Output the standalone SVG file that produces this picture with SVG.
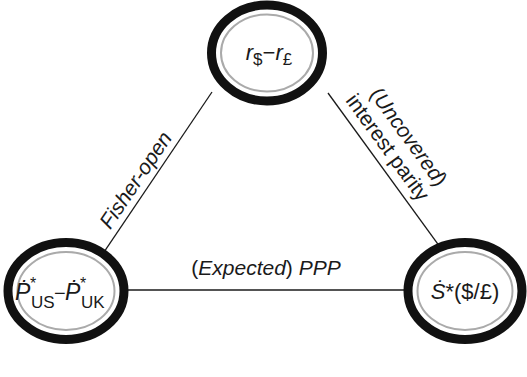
<svg xmlns="http://www.w3.org/2000/svg" width="527" height="377" viewBox="0 0 527 377">
<style>
.ring{fill:#fff;stroke:#111;stroke-width:9}
.inner{fill:none;stroke:#aaa;stroke-width:2}
.t{font-family:"Liberation Sans","DejaVu Sans",Arial,sans-serif;fill:#1a1a1a}
.it{font-style:italic}
.edge{stroke:#1a1a1a;stroke-width:1.3;fill:none}
</style>
<rect width="527" height="377" fill="#fff"/>
<g id="connectors">
<line class="edge" x1="100" y1="258" x2="212" y2="92"/>
<line class="edge" x1="328" y1="93" x2="448" y2="258"/>
<line class="edge" x1="125" y1="290" x2="406" y2="290"/>
<text class="t it" font-size="21" transform="translate(141.5,184) rotate(-56)" text-anchor="middle">Fisher-open</text>
<text class="t" font-size="21" transform="translate(403,141) rotate(54)" text-anchor="middle">(<tspan class="it">Uncovered</tspan>)</text>
<text class="t" font-size="21" transform="translate(382,151.5) rotate(54)" text-anchor="middle">interest parity</text>
<text class="t" font-size="21" x="266" y="275" text-anchor="middle">(<tspan class="it">Expected</tspan>) <tspan class="it">PPP</tspan></text>
</g>
<g id="node-interest">
<ellipse class="ring" cx="267" cy="53" rx="55.5" ry="48"/>
<ellipse class="inner" cx="267" cy="53" rx="46" ry="38.5"/>
<text class="t" font-size="22" x="269" y="60" text-anchor="middle"><tspan class="it">r</tspan><tspan font-size="17" dy="5">$</tspan><tspan dy="-5">−</tspan><tspan class="it">r</tspan><tspan font-size="17" dy="5">£</tspan></text>
</g>
<g id="node-inflation">
<ellipse class="ring" cx="66" cy="291" rx="58" ry="48.5"/>
<ellipse class="inner" cx="66" cy="291" rx="48.5" ry="39"/>
<text class="t it" font-size="23" x="15" y="300">Ṗ</text>
<text class="t" font-size="16" x="30" y="289">*</text>
<text class="t" font-size="17" x="31" y="308">US</text>
<text class="t" font-size="20" x="54" y="300">−</text>
<text class="t it" font-size="23" x="65" y="300">Ṗ</text>
<text class="t" font-size="16" x="80" y="289">*</text>
<text class="t" font-size="17" x="81" y="308">UK</text>
</g>
<g id="node-exchange">
<ellipse class="ring" cx="465" cy="291" rx="57" ry="48.5"/>
<ellipse class="inner" cx="465" cy="291" rx="47.5" ry="39"/>
<text class="t" font-size="22" x="465" y="299" text-anchor="middle"><tspan class="it">Ṡ</tspan>*($/£)</text>
</g>
</svg>
